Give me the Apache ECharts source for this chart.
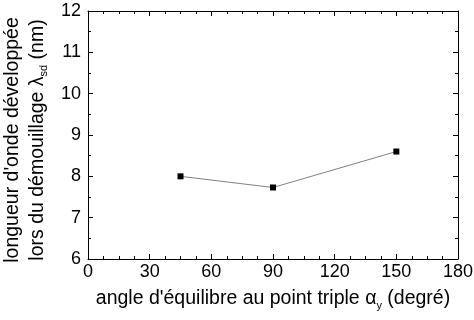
<!DOCTYPE html>
<html><head><meta charset="utf-8">
<script src="https://cdn.jsdelivr.net/npm/echarts@6/dist/echarts.min.js"></script>
<style>html,body{margin:0;padding:0;background:#fff}#c{width:474px;height:320px}</style>
</head><body><div id="c"></div>
<script>
const angles = [45, 90, 150];
const wavelengths = [8.0, 7.73, 8.6];
const xTicks = [0, 30, 60, 90, 120, 150, 180];
const yTicks = [6, 7, 8, 9, 10, 11, 12];

const F = 'Liberation Sans, Arial, sans-serif';
const FS = 18;
const TS = 19.5;
const chart = echarts.init(document.getElementById('c'));
const axisCommon = {
  axisLine: {show: true, onZero: false, lineStyle: {color: '#000', width: 1}},
  axisTick: {show: true, inside: true, length: 5, lineStyle: {color: '#000'}},
  minorTick: {show: true, splitNumber: 2, length: 3, lineStyle: {color: '#000'}},
  splitLine: {show: false}
};
chart.setOption({
  animation: false,
  grid: {left: 88, right: 16, top: 11, bottom: 61, outerBoundsMode: 'none', containLabel: false},
  xAxis: [
    Object.assign({
      type: 'value', min: xTicks[0], max: xTicks[xTicks.length - 1], interval: 30, position: 'bottom',
      axisLabel: {fontFamily: F, fontSize: FS, color: '#000', margin: 4},
      name: '{a|angle d\'équilibre au point triple α}{s|y}{a| (degré)}',
      nameLocation: 'middle', nameGap: 28,
      nameTextStyle: {rich: {a: {fontFamily: F, fontSize: TS, color: '#000'}, s: {fontFamily: F, fontSize: 11, color: '#000', padding: [13, 0, 0, 0]}}}
    }, axisCommon, {minorTick: {show: true, splitNumber: 4, length: 3, lineStyle: {color: '#000'}}}),
    Object.assign({
      type: 'value', min: xTicks[0], max: xTicks[xTicks.length - 1], interval: 30, position: 'top',
      axisLabel: {show: false}
    }, axisCommon, {minorTick: {show: true, splitNumber: 4, length: 3, lineStyle: {color: '#000'}}})
  ],
  yAxis: [
    Object.assign({
      type: 'value', min: yTicks[0], max: yTicks[yTicks.length - 1], interval: 1, position: 'left',
      axisLabel: {fontFamily: F, fontSize: FS, color: '#000', margin: 7},
      name: '{a|longueur d\'onde développée}\n{a|lors du démouillage λ}{s|sd}{a| (nm)}',
      nameLocation: 'middle', nameGap: 31, nameRotate: 90,
      nameTextStyle: {lineHeight: 25, padding: [0, 10, 0, 0], rich: {a: {fontFamily: F, fontSize: TS, color: '#000', lineHeight: 25}, s: {fontFamily: F, fontSize: 11, color: '#000', padding: [13, 0, 0, 0]}}}
    }, axisCommon),
    Object.assign({
      type: 'value', min: yTicks[0], max: yTicks[yTicks.length - 1], interval: 1, position: 'right',
      axisLabel: {show: false}
    }, axisCommon)
  ],
  series: [{
    type: 'line',
    data: angles.map((a, i) => [a, wavelengths[i]]),
    symbol: 'rect', symbolSize: 6,
    itemStyle: {color: '#000'},
    lineStyle: {color: '#808080', width: 1}
  }]
});
</script>
</body></html>
